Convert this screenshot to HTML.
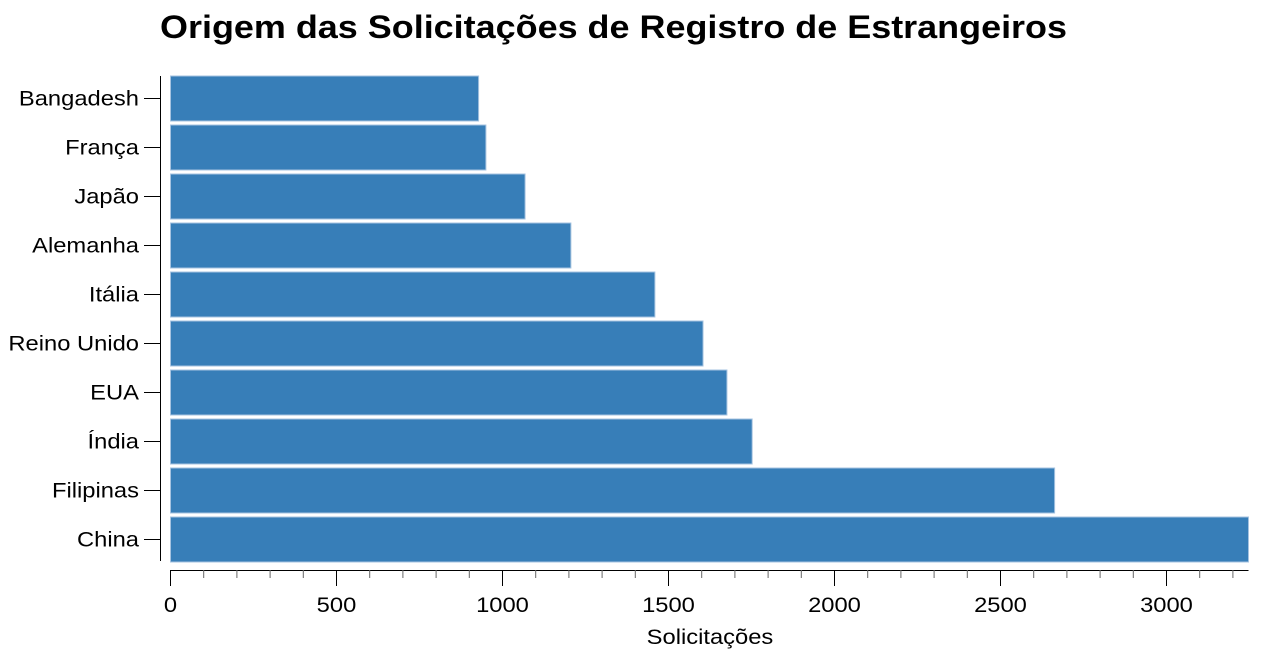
<!DOCTYPE html>
<html><head><meta charset="utf-8"><style>
body{margin:0;background:#fff;font-family:"Liberation Sans",Arial,sans-serif}
</style></head><body>
<svg width="1280" height="658">
<text x="160" y="38" font-size="32" font-weight="bold" fill="#000" textLength="907" lengthAdjust="spacingAndGlyphs">Origem das Solicitações de Registro de Estrangeiros</text>
<g id="bars"></g><g id="yaxis"></g><g id="xaxis"></g>
<text id="xt" x="710" y="644" font-size="21" text-anchor="middle">Solicitações</text>
</svg>
<script>
const categories=["Bangadesh","França","Japão","Alemanha","Itália","Reino Unido","EUA","Índia","Filipinas","China"];
const values=[928,950,1068,1206,1459,1604,1676,1752,2663,3247];
const ticks=[0,500,1000,1500,2000,2500,3000];
const x0=170.5,kx=0.332,xMax=3247,yTop=74,yBottom=564;
const band=(yBottom-yTop)/categories.length;
const X=v=>x0+v*kx, Y=i=>yTop+i*band;
const ns="http://www.w3.org/2000/svg";
const stretch=1.13;
function mk(t,a,p){const e=document.createElementNS(ns,t);for(const k in a)e.setAttribute(k,a[k]);p.appendChild(e);return e;}
function widen(t){const w=t.getComputedTextLength();t.setAttribute('textLength',w*stretch);t.setAttribute('lengthAdjust','spacingAndGlyphs');}
const gb=document.getElementById('bars'),gy=document.getElementById('yaxis'),gx=document.getElementById('xaxis');
categories.forEach((c,i)=>{
 const r=mk('rect',{x:X(0),y:Y(i)+2,width:X(values[i])-X(0),height:band-4,fill:'#377eb8',stroke:'#a6c3e0','stroke-width':1},gb);
 
 
 const cy=Y(i)+band/2;
 mk('line',{x1:144,x2:160,y1:cy,y2:cy,stroke:'#000'},gy);
 const t=mk('text',{x:139,y:cy+7,'font-size':21,'text-anchor':'end'},gy);t.textContent=c;
 
 
 widen(t);
});
mk('line',{x1:160.5,x2:160.5,y1:yTop+2,y2:yBottom-3,stroke:'#000'},gy);
mk('line',{x1:X(0),x2:X(xMax),y1:570.5,y2:570.5,stroke:'#000'},gx);
for(let v=0;v<=xMax;v+=100){
 const maj=v%500===0;
 mk('line',{x1:X(v),x2:X(v),y1:570,y2:maj?586:578,stroke:maj?'#000':'#666'},gx);
}
ticks.forEach(v=>{
 const t=mk('text',{x:X(v),y:612,'font-size':21,'text-anchor':'middle'},gx);t.textContent=v;
 
 
 widen(t);
});
widen(document.getElementById('xt'));
</script>
</body></html>
